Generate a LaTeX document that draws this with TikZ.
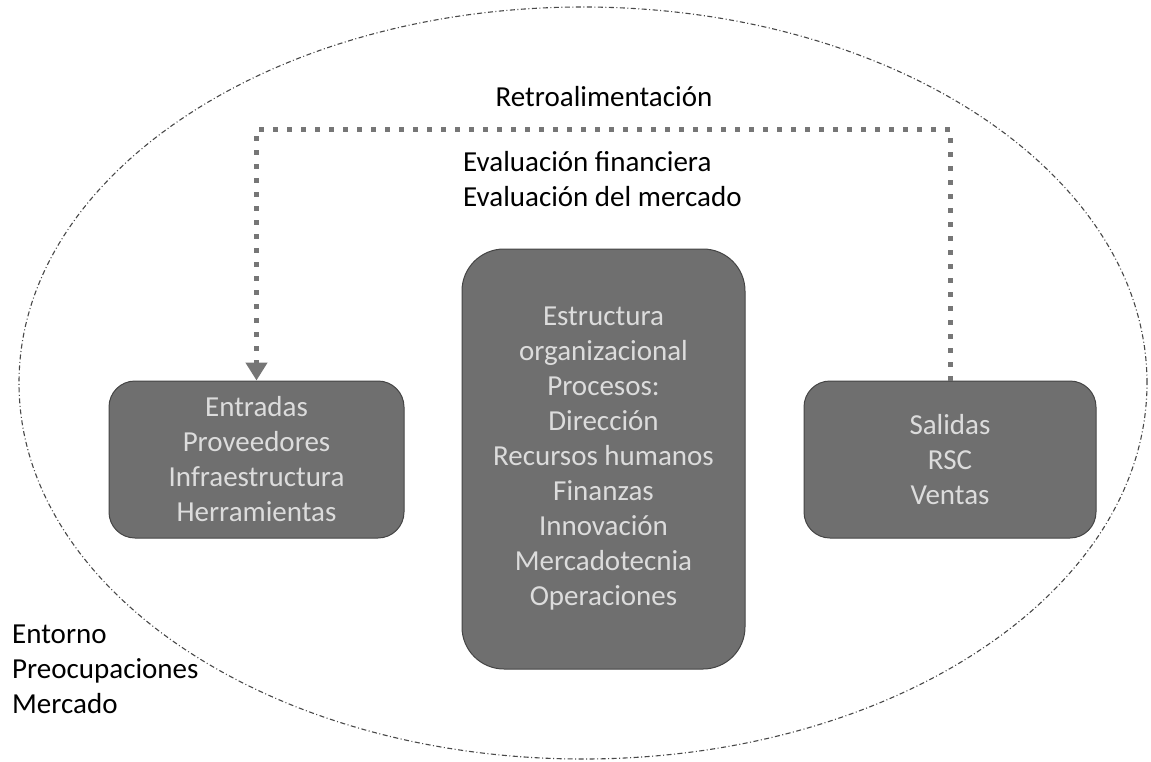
\documentclass[tikz,border=0pt]{standalone}
\usepackage{fontspec}
\setmainfont{Carlito}
\usetikzlibrary{arrows.meta}
\definecolor{boxgray}{HTML}{6F6F6F}
\definecolor{boxline}{HTML}{454545}
\definecolor{boxtext}{HTML}{DCDCDC}
\definecolor{dotgray}{HTML}{767676}
\definecolor{ringgray}{HTML}{484848}
\begin{document}
\begin{tikzpicture}[x=1pt, y=-1pt, font=\fontsize{29}{35}\selectfont,
        main/.style = {draw=boxline, line width=1pt, fill=boxgray, text=boxtext, align=center},
        label/.style = {inner sep=0pt, align=left},
        feedback/.style = {draw=dotgray, line width=5pt, dash pattern=on 5pt off 9pt, -{Triangle[width=21pt,length=18pt]}},
        entorno/.style = {draw=ringgray, line width=1.1pt, dash pattern=on 5pt off 2.5pt on 1pt off 2.5pt}]
        \useasboundingbox (0,0) rectangle (1151,761);
        \draw[entorno] (583,383) ellipse [x radius=564pt, y radius=376pt];
        \node[main, rounded corners=26pt, minimum width=295pt, minimum height=157pt] (in) at (256.5,459.5) {Entradas\\Proveedores\\Infraestructura\\Herramientas};
        \node[main, rounded corners=42pt, minimum width=283pt, minimum height=420pt] (proc) at (603.5,459) {Estructura\\organizacional\\Procesos:\\Dirección\\Recursos humanos\\Finanzas\\Innovación\\Mercadotecnia\\Operaciones};
        \node[main, rounded corners=26pt, minimum width=292pt, minimum height=157pt] (out) at (950,459.5) {Salidas\\RSC\\Ventas};
        \coordinate (top) at (600,129);
        \draw[feedback] (out.north) |- (top) -| (in.north);
        \node[inner sep=0pt, anchor=base] (retro) at (604,106) {Retroalimentación};
        \node[label, anchor=west] (eval) at (463,179) {Evaluación financiera\\Evaluación del mercado};
        \node[label, anchor=west] (env) at (12,669) {Entorno\\Preocupaciones\\Mercado};
    \end{tikzpicture}
\end{document}
